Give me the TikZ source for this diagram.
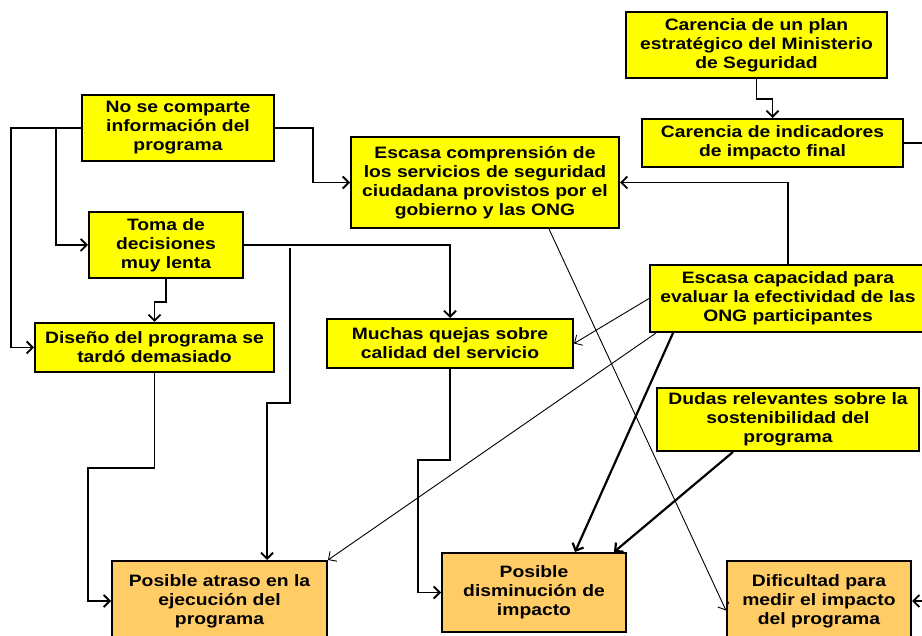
\documentclass[tikz,border=0pt]{standalone}
\usepackage{fontspec}
\setmainfont{Liberation Sans}[FakeStretch=1.17]
\usetikzlibrary{arrows.meta}
\definecolor{boxyellow}{RGB}{255,255,0}
\definecolor{boxorange}{RGB}{255,204,102}
\begin{document}
\begin{tikzpicture}[x=1pt,y=-1pt,
  >={Straight Barb[length=6pt,width=12pt]},
  cause/.style={draw, line width=2pt, fill=boxyellow, inner sep=0pt, align=center,
    font=\bfseries\fontsize{16.5}{19}\selectfont},
  effect/.style={cause, fill=boxorange},
  conn/.style={->, line width=1.8pt},
  thinconn/.style={->, line width=0.9pt},
  thickconn/.style={->, line width=2.2pt}]
\useasboundingbox[fill=white] (0,0) rectangle (922,636);
% nodes
\node[cause, minimum width=261pt, minimum height=66pt] (plan) at (756.5,45) {Carencia de un plan\\estratégico del Ministerio\\de Seguridad};
\node[cause, minimum width=261pt, minimum height=48pt] (indic) at (772.5,143) {Carencia de indicadores\\de impacto final};
\node[cause, minimum width=268pt, minimum height=91pt] (compr) at (485,182.5) {Escasa comprensión de\\los servicios de seguridad\\ciudadana provistos por el\\gobierno y las ONG};
\node[cause, minimum width=192pt, minimum height=66pt] (nose) at (178,128) {No se comparte\\información del\\programa};
\node[cause, minimum width=154pt, minimum height=66pt] (toma) at (166,245) {Toma de\\decisiones\\muy lenta};
\node[cause, minimum width=239pt, minimum height=49pt] (diseno) at (154.5,347.5) {Diseño del programa se\\tardó demasiado};
\node[cause, minimum width=246pt, minimum height=49pt] (quejas) at (450,343.5) {Muchas quejas sobre\\calidad del servicio};
\node[cause, minimum width=276pt, minimum height=67pt] (capac) at (788,298.5) {Escasa capacidad para\\evaluar la efectividad de las\\ONG participantes};
\node[cause, minimum width=262pt, minimum height=63pt] (dudas) at (788,419.5) {Dudas relevantes sobre la\\sostenibilidad del\\programa};
\node[effect, minimum width=215pt, minimum height=80pt] (atraso) at (219.5,601) {Posible atraso en la\\ejecución del\\programa};
\node[effect, minimum width=184pt, minimum height=79pt] (dismin) at (534,592.5) {Posible\\disminución de\\impacto};
\node[effect, minimum width=184pt, minimum height=80pt] (dific) at (819,601) {Dificultad para\\medir el impacto\\del programa};
% connectors
\draw[conn] (plan.south) -- ++(0,20) -| (indic.north);
\draw[conn] (indic.east) -- ++(32,0) |- (dific.east);
\draw[conn] (capac.north) |- (compr.east);
\draw[conn] (nose.east) -- ++(38,0) |- (compr.west);
\draw[conn] (nose.west) -- ++(-70,0) |- (diseno.west);
\draw[conn] (nose.west) -- ++(-25,0) |- (toma.west);
\draw[conn] (toma.south) -- ++(0,23) -| (diseno.north);
\draw[conn] (toma.east) -| (quejas.north);
\draw[conn] ([xshift=46pt,yshift=-3pt]toma.east) -- ++(0,155) -| ([xshift=47.5pt]atraso.north);
\draw[conn] (diseno.south) -- ++(0,95) -| ([xshift=-23pt,yshift=-35pt]atraso.north west) |- (atraso.west);
\draw[conn] (quejas.south) -- ++(0,91) -| ([xshift=-23pt,yshift=-40pt]dismin.north west) |- (dismin.west);
\draw[thinconn] (capac.west) -- (quejas.east);
\draw[thinconn] ([xshift=7pt]capac.south west) -- (atraso.north east);
\draw[thickconn] ([xshift=24pt]capac.south west) -- ([xshift=41pt]dismin.north);
\draw[thickconn] ([xshift=-55pt]dudas.south) -- ([xshift=-13pt]dismin.north east);
\draw[thinconn] ([xshift=64pt]compr.south) -- ([yshift=-9.5pt]dific.west);
\end{tikzpicture}
\end{document}
